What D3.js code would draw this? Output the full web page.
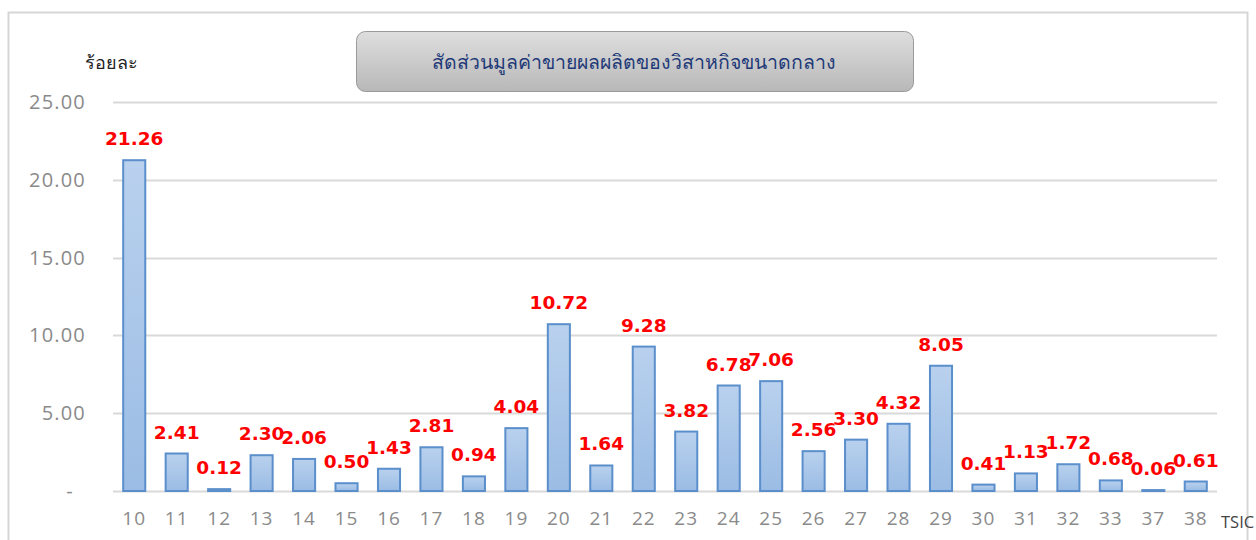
<!DOCTYPE html>
<html lang="th">
<head>
<meta charset="utf-8">
<title>สัดส่วนมูลค่าขายผลผลิตของวิสาหกิจขนาดกลาง</title>
<script src="https://d3js.org/d3.v7.js"></script>
<style>
  body { margin: 0; background: #fff; }
</style>
</head>
<body>
<div id="chart"></div>
<script>
// TSIC codes and share of sales value (%)
const tsic = ["10","11","12","13","14","15","16","17","18","19","20","21","22","23","24","25","26","27","28","29","30","31","32","33","37","38"];
const share = [21.26,2.41,0.12,2.30,2.06,0.50,1.43,2.81,0.94,4.04,10.72,1.64,9.28,3.82,6.78,7.06,2.56,3.30,4.32,8.05,0.41,1.13,1.72,0.68,0.06,0.61];
const yTicks = [0, 5, 10, 15, 20, 25];

const W = 1256, H = 540;
const margin = { top: 102, right: 39, bottom: 49, left: 113 };

const svg = d3.select("#chart").append("svg")
  .attr("width", W).attr("height", H);

const defs = svg.append("defs");
const barGrad = defs.append("linearGradient").attr("id", "barGrad")
  .attr("x1", 0).attr("y1", 0).attr("x2", 0).attr("y2", 1);
barGrad.append("stop").attr("offset", "0%").attr("stop-color", "#b9d1ee");
barGrad.append("stop").attr("offset", "100%").attr("stop-color", "#9bbce4");
const boxGrad = defs.append("linearGradient").attr("id", "boxGrad")
  .attr("x1", 0).attr("y1", 0).attr("x2", 0).attr("y2", 1);
boxGrad.append("stop").attr("offset", "0%").attr("stop-color", "#dedede");
boxGrad.append("stop").attr("offset", "100%").attr("stop-color", "#b8b8b8");

// outer frame
svg.append("rect")
  .attr("x", 8.5).attr("y", 12.5).attr("width", 1239).attr("height", 540)
  .attr("fill", "none").attr("stroke", "#d6d6d6").attr("stroke-width", 2);

const x = d3.scaleBand()
  .domain(tsic)
  .range([margin.left, W - margin.right])
  .paddingInner(0.48).paddingOuter(0.24);

const y = d3.scaleLinear()
  .domain([0, 25])
  .range([H - margin.bottom, margin.top]);

// gridlines
svg.append("g")
  .selectAll("line")
  .data(yTicks)
  .join("line")
  .attr("x1", margin.left).attr("x2", W - margin.right)
  .attr("y1", d => Math.round(y(d)) + 0.5).attr("y2", d => Math.round(y(d)) + 0.5)
  .attr("stroke", "#d9d9d9").attr("stroke-width", 2);

// y axis labels
const yAxis = svg.append("g")
  .attr("transform", `translate(86,0)`)
  .call(d3.axisLeft(y).tickValues(yTicks).tickSize(0)
    .tickFormat(d => d === 0 ? "-" : d3.format(".2f")(d)));
yAxis.select(".domain").remove();
yAxis.selectAll("text")
  .attr("x", 0)
  .attr("font-family", "'Open Sans', sans-serif")
  .attr("font-size", 20)
  .attr("letter-spacing", 1.2)
  .attr("fill", "#8a8a8a");
yAxis.selectAll(".tick").filter(d => d === 0).select("text").attr("x", -12);

// bars
svg.append("g")
  .selectAll("rect")
  .data(share)
  .join("rect")
  .attr("x", (d, i) => x(tsic[i]))
  .attr("y", d => y(d))
  .attr("width", x.bandwidth())
  .attr("height", d => y(0) - y(d))
  .attr("fill", "url(#barGrad)")
  .attr("stroke", "#5a8fcc")
  .attr("stroke-width", 2);

// value labels
svg.append("g")
  .selectAll("text")
  .data(share)
  .join("text")
  .attr("x", (d, i) => x(tsic[i]) + x.bandwidth() / 2)
  .attr("y", d => y(d) - 15)
  .attr("text-anchor", "middle")
  .attr("font-family", "'DejaVu Sans', sans-serif")
  .attr("font-weight", "bold")
  .attr("font-size", 18.5)
  .attr("fill", "#ff0000")
  .text(d => d3.format(".2f")(d));

// x axis
const xAxis = svg.append("g")
  .attr("transform", `translate(0,${H - margin.bottom})`)
  .call(d3.axisBottom(x).tickSize(0).tickPadding(21));
xAxis.select(".domain").remove();
xAxis.selectAll("text")
  .attr("font-family", "'Open Sans', sans-serif")
  .attr("font-size", 19)
  .attr("letter-spacing", 1)
  .attr("fill", "#8a8a8a");

svg.append("text")
  .attr("x", 1221).attr("y", 528)
  .attr("font-family", "'Open Sans', sans-serif")
  .attr("font-size", 16.5)
  .attr("fill", "#444")
  .text("TSIC");

// unit label
svg.append("text")
  .attr("x", 85).attr("y", 69)
  .attr("font-family", "'Noto Sans', 'DejaVu Sans', sans-serif")
  .attr("font-size", 18)
  .attr("fill", "#222")
  .text("ร้อยละ");

// title box
svg.append("rect")
  .attr("x", 356.5).attr("y", 31.5).attr("width", 557).attr("height", 60)
  .attr("rx", 9)
  .attr("fill", "url(#boxGrad)")
  .attr("stroke", "#9a9a9a").attr("stroke-width", 1);
svg.append("text")
  .attr("x", 634).attr("y", 69)
  .attr("text-anchor", "middle")
  .attr("font-family", "'Noto Sans', 'DejaVu Sans', sans-serif")
  .attr("font-size", 19.5)
  .attr("fill", "#1f3a78")
  .text("สัดส่วนมูลค่าขายผลผลิตของวิสาหกิจขนาดกลาง");
</script>
</body>
</html>
